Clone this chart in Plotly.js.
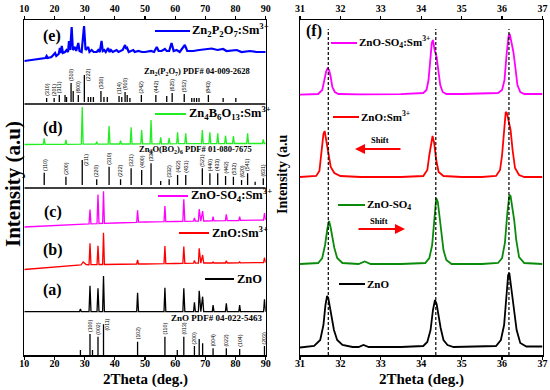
<!DOCTYPE html>
<html><head><meta charset="utf-8">
<script src="https://cdn.plot.ly/plotly-3.0.1.min.js"></script>
<style>html,body{margin:0;padding:0;background:#fff}#plot{width:550px;height:390px}</style>
</head><body><div id="plot"></div>
<script>
// ===== Left panel: stacked XRD patterns (2Theta, offset intensity) =====
const patternE = [[10,294],[12,295],[14,296],[15.5,297],[17,297],[17.4,299],[17.8,297],[19,298],[20.2,302],[20.6,299],[21.4,301],[21.8,307],[22.1,302],[22.4,309],[22.8,302],[23.5,303],[24,305],[24.5,303],[24.8,314],[25.2,305],[25.7,328],[26.1,305],[26.8,308],[27.2,304],[27.9,312],[28.3,304],[29.0,303],[29.8,329],[30.3,305],[31.2,308],[31.6,303],[32.3,305],[33,303],[34.0,303],[34.5,305],[35.0,303],[35.6,314],[36.0,304],[36.5,305],[37.0,303],[37.8,307],[38.2,303],[38.7,305],[39.3,303],[40.6,305],[41.2,303],[42.0,304],[42.6,305],[43.4,310],[43.8,306],[44.1,307],[44.6,303],[46.1,305],[46.6,303],[47.8,304],[49,303],[50,303],[52,304],[53.0,303],[53.9,308],[54.5,304],[55.5,304],[56.6,306],[57.2,304],[58.0,304],[58.8,312],[59.5,304],[60.5,305],[61.5,303],[63.2,310],[64.0,304],[66,304],[68,305],[70,306],[72.1,306.5],[74,305],[75.9,306],[77,304],[80.4,305],[82,303],[84.8,304],[87,303],[90,303]];
const sticksE_x   = [17.4,19.9,21.6,23.5,24.0,25.5,26.2,27.9,29.9,31.2,32.0,32.9,35.4,36.4,37.5,41.4,42.3,43.4,44.1,45.0,48.8,53.6,57.2,59.0,63.0,65.5,66.3,67.1,67.9,71.0,75.9,80.1];
const sticksE_top = [257,257,260,260,258,272,264,260,280,258,258,258,264,258,258,259,258,263,260,257,260,260,259,262,261,257,257,257,257,260,257,257];
const sticksE_base = 253;
const labelsE   = ['(310)','(201)','(311)','(510)','(600)','(222)','(330)','(114)','(910)','(242)','(442)','(625)','(552)','(843)'];
const labelsE_x = [17.4,19.9,21.6,25.5,27.9,29.9,35.4,41.4,43.4,48.8,53.6,59.0,63.0,71.0];

const patternD = [[10,210.5],[16.3,210.6],[16.6,216.7],[16.9,210.6],[23.5,210.7],[23.8,215],[24.1,210.7],[28.9,210.8],[29.2,248],[29.5,210.8],[33.7,210.9],[34.0,213.3],[34.3,210.9],[37.8,211],[38.1,229],[38.4,211],[41.6,211],[41.9,214.3],[42.2,211],[45.1,211],[45.4,227.7],[45.7,211],[48.6,211.1],[48.9,225],[49.2,211.1],[51.7,211.1],[52.0,235],[52.3,211.1],[54.9,211.2],[55.2,217.7],[55.5,211.2],[57.7,211.2],[58.0,217],[58.3,211.2],[60.5,211.3],[60.8,222.7],[61.1,211.3],[63.2,211.3],[63.5,221.7],[63.8,211.3],[68.7,211.4],[69.0,225],[69.3,211.4],[71.2,211.4],[71.5,222.7],[71.8,211.4],[73.8,211.4],[74.1,221.7],[74.4,211.4],[76.4,211.5],[76.7,219.3],[77.0,211.5],[79.0,211.5],[79.3,219],[79.6,211.5],[83.7,211.5],[84.0,221.7],[84.3,211.5],[88.9,211.5],[89.2,215.7],[89.5,211.5],[90,211.5]];
const sticksD_x   = [16.6,23.8,29.2,34.0,38.1,41.9,45.4,48.9,52.0,55.2,58.0,60.8,63.5,69.0,71.5,74.1,76.7,79.3,82.0,84.0,86.5,89.2];
const sticksD_top = [182.3,178.3,195,175.7,188.3,175.7,186.7,185,191.7,174,175.7,180,180,186.7,181.7,181.7,179,178.3,175,181.7,173.3,176.7];
const sticksD_base = 170;
const labelsD   = ['(110)','(200)','(211)','(220)','(310)','(222)','(321)','(400)','(330)','(332)','(422)','(431)','(521)','(440)','(433)','(442)','(532)','(620)','(541)','(631)'];
const labelsD_x = [16.6,23.8,29.2,34.0,38.1,41.9,45.4,48.9,52.0,58.0,60.8,63.5,69.0,71.5,74.1,76.7,79.3,82.0,84.0,89.2];

const patternC = [[10,128],[20,129.5],[30,131],[31.45,131.1],[31.77,145.5],[32.1,131.2],[34.1,131.4],[34.42,160.5],[34.75,131.5],[35.95,131.6],[36.25,163.7],[36.55,131.7],[40,132],[47.25,132.7],[47.54,144.7],[47.85,132.8],[50,133],[56.3,133.3],[56.6,149],[56.9,133.3],[60,133.5],[62.55,133.6],[62.86,155.8],[63.2,133.6],[66.1,133.8],[66.38,137],[66.7,133.8],[67.7,133.9],[67.96,145.8],[68.5,133.9],[69.1,144],[69.45,134],[72.3,134.2],[72.56,138.3],[72.85,134.2],[76.65,134.4],[76.95,140.7],[77.25,134.4],[81.1,134.5],[81.37,138.3],[81.65,134.6],[89.3,134.9],[89.6,141.8],[90,135]];
const patternB = [[10,85.5],[20,87.5],[25,89],[28.8,90],[29.5,93],[30.5,90.5],[31.45,90.3],[31.77,111.7],[32.1,90.4],[34.1,90.5],[34.42,109.2],[34.75,90.5],[35.95,90.5],[36.25,122.3],[36.55,90.5],[40,90.5],[47.25,91],[47.54,95],[47.85,91],[50,91],[56.3,91.3],[56.6,109],[56.9,91.3],[60,91.5],[62.55,91.6],[62.86,108.5],[63.2,91.6],[66.1,91.8],[66.38,94.5],[66.7,91.8],[67.7,91.9],[67.96,106.7],[68.5,91.9],[69.1,100],[69.45,92],[72.3,92],[72.56,93],[72.85,92],[76.65,92],[76.95,94.2],[77.25,92],[81.1,92.2],[81.37,93],[81.65,92.2],[89.3,92.5],[89.6,97.3],[90,92.5]];
const patternA = [[10,43.3],[28.3,43.3],[28.6,46],[28.9,43.3],[31.45,43.3],[31.77,69.3],[32.1,43.3],[34.1,43.3],[34.42,66.7],[34.75,43.3],[35.95,43.3],[36.25,79],[36.55,43.3],[47.25,43.3],[47.54,62.3],[47.85,43.3],[56.3,43.3],[56.6,67.3],[56.9,43.3],[62.55,43.3],[62.86,66.7],[63.2,43.3],[66.1,43.3],[66.38,52.7],[66.7,43.3],[67.7,43.3],[67.96,64.3],[68.5,43.3],[69.1,58.3],[69.45,43.3],[72.3,43.3],[72.56,50],[72.85,43.3],[76.65,43.3],[76.95,51.7],[77.25,43.3],[81.1,43.3],[81.37,50],[81.65,43.3],[89.3,43.3],[89.6,55.7],[90,43.3]];
const sticksZ_x   = [28.6,31.77,32.6,34.42,36.25,47.54,56.6,60.7,62.86,66.38,67.96,69.1,72.56,76.95,81.37,89.6];
const sticksZ_top = [5,21,5,18.3,30.7,13.3,18.3,5,18.3,9,16,11.7,6.7,6.7,6,9];
const sticksZ_base = 0;
const labelsZ   = ['(100)','(002)','(011)','(102)','(110)','(013)','(200)','(004)','(022)','(104)','(203)'];
const labelsZ_x = [31.77,34.42,36.25,47.54,56.6,62.86,66.38,72.56,76.95,81.37,89.6];
const besideLabels = ['29.9','29.2','36.25'];

// ===== Right panel: zoom 31-37 deg =====
const zoomSO4Sm = [[31,260.3],[31.45,261],[31.55,265],[31.6,275],[31.65,284],[31.68,286.5],[31.72,285],[31.76,278],[31.8,268],[31.86,263],[31.95,261],[32.5,260.7],[33.0,261],[33.5,260.8],[34.05,262],[34.13,265],[34.18,275],[34.22,295],[34.26,312],[34.29,315],[34.33,305],[34.38,298],[34.42,287],[34.47,270],[34.53,263],[34.62,261],[35.0,261],[35.5,261.2],[35.9,262],[36.0,265],[36.06,275],[36.11,300],[36.16,319],[36.19,321],[36.23,313],[36.28,303],[36.33,287],[36.38,270],[36.45,263],[36.55,261],[37,261]];
const zoomZnOSm = [[31,178],[31.4,179],[31.48,184],[31.53,200],[31.58,221],[31.61,224],[31.65,215],[31.7,200],[31.76,188],[31.85,182],[32.0,179],[32.5,178],[33.0,178],[33.5,178],[34.05,179],[34.15,185],[34.2,200],[34.25,215],[34.28,219],[34.32,212],[34.37,195],[34.43,183],[34.55,179],[35.0,178],[35.5,178],[35.85,179],[35.95,185],[36.0,200],[36.05,230],[36.09,243],[36.12,242],[36.16,233],[36.21,225],[36.26,205],[36.32,187],[36.42,180],[36.55,178],[37,178]];
const zoomSO4 = [[31,91],[31.45,92],[31.55,97],[31.62,110],[31.68,127],[31.72,134],[31.76,127],[31.8,119],[31.85,107],[31.92,97],[32.05,92],[32.45,91],[32.6,93.5],[32.75,91],[33.5,91],[34.1,92],[34.2,97],[34.27,110],[34.33,140],[34.37,157],[34.41,153],[34.46,137],[34.5,125],[34.55,105],[34.62,95],[34.75,91],[35.5,91],[35.9,92],[36.0,97],[36.07,112],[36.13,142],[36.18,160],[36.21,159],[36.26,145],[36.3,135],[36.35,115],[36.42,98],[36.55,92],[37,91]];
const zoomZnO = [[31,7.5],[31.35,9],[31.5,15],[31.58,30],[31.63,50],[31.67,59],[31.7,57],[31.74,47],[31.78,39],[31.84,25],[31.92,15],[32.05,10],[32.3,8],[32.45,8],[32.57,10],[32.7,8],[33.5,8],[34.05,9],[34.15,13],[34.23,25],[34.29,45],[34.34,55],[34.38,51],[34.43,39],[34.48,27],[34.55,15],[34.65,10],[34.8,8],[35.5,8.3],[35.85,9],[35.97,15],[36.05,30],[36.11,60],[36.15,80],[36.18,82],[36.22,70],[36.26,59],[36.3,45],[36.36,25],[36.45,12],[36.6,8.5],[37,8.5]];
const refPeaks = [31.70, 34.36, 36.17];

const ticksLeft = [10,20,30,40,50,60,70,80,90];
const ticksRight = [31,32,33,34,35,36,37];

// ===== helpers =====
const W = 550, T = 20, B = 355;
const X = px => px / W;
const Y = py => (B - py) / (B - T);
const SERIF = 'Liberation Serif, Times New Roman, serif';

function curve(pts, color, width, xa, ya) {
  return {x: pts.map(p => p[0]), y: pts.map(p => p[1]), mode: 'lines', type: 'scatter',
    line: {color: color, width: width}, xaxis: xa, yaxis: ya, hoverinfo: 'skip', showlegend: false};
}
function sticks(xs, tops, base) {
  const x = [], y = [];
  xs.forEach((v, i) => { x.push(v, v, null); y.push(base, tops[i], null); });
  return {x, y, mode: 'lines', type: 'scatter', line: {color: '#000', width: 1.3},
    xaxis: 'x', yaxis: 'y', hoverinfo: 'skip', showlegend: false, connectgaps: false};
}

const traces = [
  curve(patternE, '#0000ff', 2.2, 'x', 'y'),
  sticks(sticksE_x, sticksE_top, sticksE_base),
  curve(patternD, '#22ee22', 1.3, 'x', 'y'),
  sticks(sticksD_x, sticksD_top, sticksD_base),
  curve(patternC, '#ff00ff', 1.3, 'x', 'y'),
  curve(patternB, '#ff0000', 1.3, 'x', 'y'),
  curve(patternA, '#000000', 1.3, 'x', 'y'),
  sticks(sticksZ_x, sticksZ_top, sticksZ_base),
  curve(zoomSO4Sm, '#ff00ff', 1.8, 'x2', 'y2'),
  curve(zoomZnOSm, '#ff0000', 1.8, 'x2', 'y2'),
  curve(zoomSO4, '#0a8a0a', 1.8, 'x2', 'y2'),
  curve(zoomZnO, '#000000', 1.8, 'x2', 'y2'),
  {x: [10], y: [null], xaxis: 'x3', yaxis: 'y', mode: 'lines', showlegend: false, hoverinfo: 'skip'},
  {x: [31], y: [null], xaxis: 'x4', yaxis: 'y2', mode: 'lines', showlegend: false, hoverinfo: 'skip'}
];

const annotations = [];
const shapes = [];

function stickLabels(names, xs, sx, stops) {
  names.forEach((n, i) => {
    const xv = xs[i];
    const k = sx.indexOf(xv);
    const top = stops[k];
    const beside = besideLabels.indexOf(String(xv)) >= 0;
    annotations.push({x: beside ? xv + 1.2 : xv, y: beside ? top - 7 : top + 1, xref: 'x', yref: 'y',
      text: n, textangle: -90, showarrow: false, xanchor: 'center', yanchor: 'bottom',
      font: {family: 'Liberation Sans, Arial, sans-serif', size: 5.2, color: '#000'}, borderpad: 0});
  });
}
stickLabels(labelsE, labelsE_x, sticksE_x, sticksE_top);
stickLabels(labelsD, labelsD_x, sticksD_x, sticksD_top);
stickLabels(labelsZ, labelsZ_x, sticksZ_x, sticksZ_top);

function txt(px, py, text, size, xanchor, extra) {
  annotations.push(Object.assign({x: X(px), y: Y(py), xref: 'paper', yref: 'paper', text: '<b>' + text + '</b>',
    showarrow: false, xanchor: xanchor || 'center', yanchor: 'middle',
    font: {family: SERIF, size: size, color: '#000'}}, extra || {}));
}
function legLine(x0, x1, py, color) {
  shapes.push({type: 'line', xref: 'paper', yref: 'paper', x0: X(x0), x1: X(x1), y0: Y(py), y1: Y(py),
    line: {color: color, width: 2}});
}

// left panel texts
txt(52, 36, '(e)', 16);
legLine(155, 190, 31, '#0000ff');
txt(190, 30, 'Zn<sub>2</sub>P<sub>2</sub>O<sub>7</sub>:Sm<sup>3+</sup>', 12.5, 'left');
txt(197, 71, 'Zn<sub>2</sub>(P<sub>2</sub>O<sub>7</sub>) PDF# 04-009-2628', 8.5);
txt(53, 128, '(d)', 16);
legLine(155, 186, 114, '#22ee22');
txt(187, 113, 'Zn<sub>4</sub>B<sub>6</sub>O<sub>13</sub>:Sm<sup>3+</sup>', 12.5, 'left');
txt(195, 149, 'Zn<sub>4</sub>O(BO<sub>2</sub>)<sub>6</sub> PDF# 01-080-7675', 8.5);
txt(53, 212, '(c)', 16);
legLine(158, 188, 196, '#ff00ff');
txt(189, 195, 'ZnO-SO<sub>4</sub>:Sm<sup>3+</sup>', 12.5, 'left');
txt(53, 250, '(b)', 16);
legLine(179, 209, 233, '#ff0000');
txt(210, 232, 'ZnO:Sm<sup>3+</sup>', 12.5, 'left');
txt(52, 290, '(a)', 16);
legLine(205, 234, 279, '#000000');
txt(235, 279, 'ZnO', 12.5, 'left');
txt(216, 317.5, 'ZnO PDF# 04-022-5463', 9);
txt(13, 184, 'Intensity (a.u)', 21, 'center', {textangle: -90});
txt(145, 379, '2Theta (deg.)', 15);

// right panel texts
txt(314, 31, '(f)', 16);
legLine(331, 357, 43, '#ff00ff');
txt(357, 42, 'ZnO-SO<sub>4</sub>:Sm<sup>3+</sup>', 11, 'left');
legLine(333, 359, 117, '#ff0000');
txt(359, 116, 'ZnO:Sm<sup>3+</sup>', 11, 'left');
txt(380, 140, 'Shift', 8.5);
annotations.push({x: X(355), y: Y(149), xref: 'paper', yref: 'paper', text: '', showarrow: true,
  ax: 47, ay: 0, arrowcolor: '#ff0000', arrowwidth: 2, arrowhead: 2, arrowsize: 1});
legLine(338, 365, 205, '#0a8a0a');
txt(365, 205, 'ZnO-SO<sub>4</sub>', 11, 'left');
txt(379, 221, 'Shift', 8.5);
annotations.push({x: X(405), y: Y(229), xref: 'paper', yref: 'paper', text: '', showarrow: true,
  ax: -48, ay: 0, arrowcolor: '#ff0000', arrowwidth: 2, arrowhead: 2, arrowsize: 1});
legLine(339, 365, 284, '#000000');
txt(365, 284, 'ZnO', 11, 'left');
txt(283, 174, 'Intensity (a.u', 14, 'center', {textangle: -90});
txt(421, 379, '2Theta (deg.)', 15);

// dashed reference lines
refPeaks.forEach(p => shapes.push({type: 'line', xref: 'x2', yref: 'paper', x0: p, x1: p, y0: 0, y1: Y(29),
  line: {color: '#000', width: 1.2, dash: '3px,2px'}}));
// separators between patterns
[251, 167].forEach(v => shapes.push({type: 'line', xref: 'x', yref: 'y', x0: 10, x1: 90, y0: v, y1: v,
  line: {color: '#000', width: 1.5}}));

const tickFont = {family: SERIF, size: 10, color: '#000'};
function xa(domain, range, vals, side, overlay) {
  const a = {domain: domain, range: range, tickmode: 'array', tickvals: vals, ticktext: vals.map(v => '<b>' + v + '</b>'),
    side: side, ticks: 'outside', ticklen: 3, tickwidth: 1.2, tickcolor: '#000', tickfont: tickFont,
    ticklabelstandoff: side === 'bottom' ? -5 : 0,
    showgrid: false, zeroline: false, showline: true, linecolor: '#000', linewidth: 1.5, mirror: overlay ? false : true,
    fixedrange: true};
  if (overlay) a.overlaying = overlay;
  return a;
}
function ya(anchor) {
  return {domain: [0, 1], range: [0, 335], anchor: anchor, showticklabels: false, ticks: '', showgrid: false,
    zeroline: false, showline: true, linecolor: '#000', linewidth: 1.5, mirror: true, fixedrange: true};
}

const layout = {
  width: 550, height: 390, margin: {l: 0, r: 0, t: T, b: 390 - B},
  paper_bgcolor: '#fff', plot_bgcolor: '#fff', showlegend: false,
  xaxis: Object.assign(xa([24.3 / W, 265.7 / W], [10, 90], ticksLeft, 'bottom'), {anchor: 'y'}),
  xaxis3: Object.assign(xa([24.3 / W, 265.7 / W], [10, 90], ticksLeft, 'top', 'x'), {anchor: 'y'}),
  yaxis: ya('x'),
  xaxis2: Object.assign(xa([300 / W, 542.5 / W], [31, 37], ticksRight, 'bottom'), {anchor: 'y2'}),
  xaxis4: Object.assign(xa([300 / W, 542.5 / W], [31, 37], ticksRight, 'top', 'x2'), {anchor: 'y2'}),
  yaxis2: ya('x2'),
  annotations: annotations,
  shapes: shapes
};

Plotly.newPlot('plot', traces, layout, {displayModeBar: false, staticPlot: true});
</script>
</body></html>
